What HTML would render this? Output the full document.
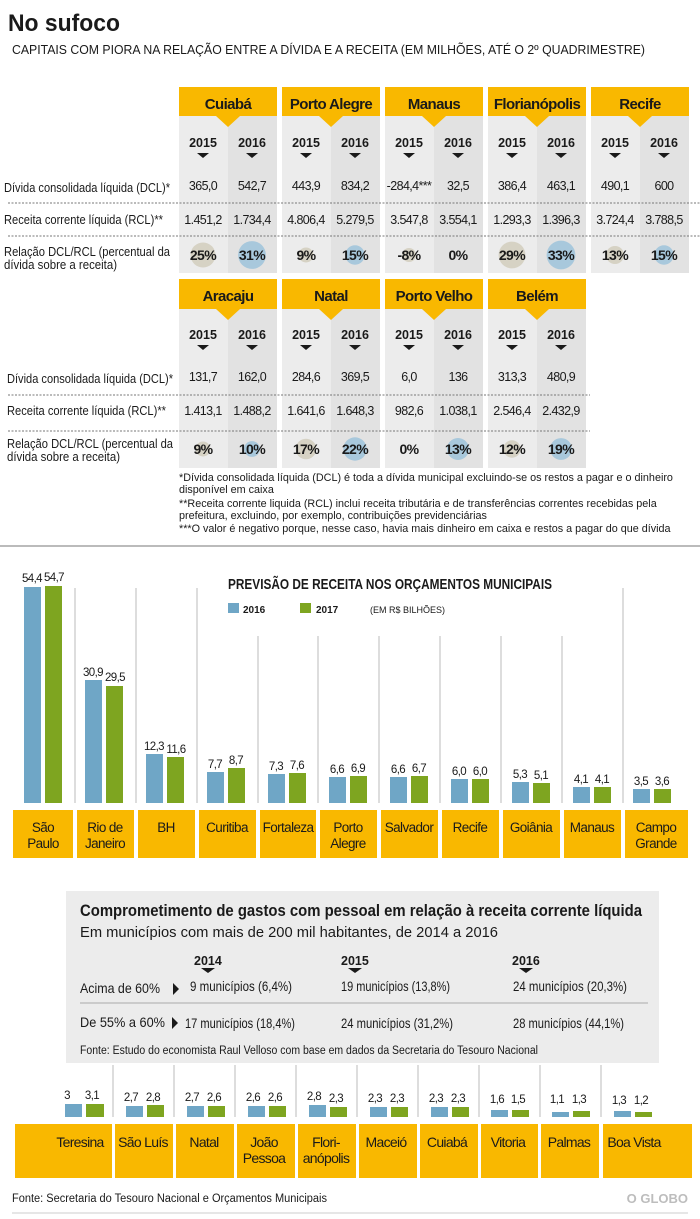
<!DOCTYPE html>
<html><head><meta charset="utf-8">
<style>
body{margin:0;background:#fff}
svg{display:block}
text{font-family:"Liberation Sans",sans-serif;fill:#1a1a1a}
.b{font-weight:bold}
.m{text-anchor:middle}
.r{text-anchor:end}
.n{letter-spacing:-0.6px}
</style></head><body>
<svg width="700" height="1219" viewBox="0 0 700 1219" xmlns="http://www.w3.org/2000/svg">
<text x="8" y="31" class="b" font-size="24" textLength="112" lengthAdjust="spacingAndGlyphs">No sufoco</text>
<text x="12" y="54" font-size="12.5" textLength="633" lengthAdjust="spacingAndGlyphs">CAPITAIS COM PIORA NA RELAÇÃO ENTRE A DÍVIDA E A RECEITA (EM MILHÕES, ATÉ O 2º QUADRIMESTRE)</text>

<!-- TABLE 1 -->
<g>
<rect x="179" y="116" width="49" height="157" fill="#ececec"/><rect x="228" y="116" width="49" height="157" fill="#e2e2e2"/>
<rect x="282" y="116" width="49" height="157" fill="#ececec"/><rect x="331" y="116" width="49" height="157" fill="#e2e2e2"/>
<rect x="385" y="116" width="49" height="157" fill="#ececec"/><rect x="434" y="116" width="49" height="157" fill="#e2e2e2"/>
<rect x="488" y="116" width="49" height="157" fill="#ececec"/><rect x="537" y="116" width="49" height="157" fill="#e2e2e2"/>
<rect x="591" y="116" width="49" height="157" fill="#ececec"/><rect x="640" y="116" width="49" height="157" fill="#e2e2e2"/>
<g fill="#f9b800">
<rect x="179" y="87" width="98" height="29"/><polygon points="216,116 228,127 240,116"/>
<rect x="282" y="87" width="98" height="29"/><polygon points="319,116 331,127 343,116"/>
<rect x="385" y="87" width="98" height="29"/><polygon points="422,116 434,127 446,116"/>
<rect x="488" y="87" width="98" height="29"/><polygon points="525,116 537,127 549,116"/>
<rect x="591" y="87" width="98" height="29"/><polygon points="628,116 640,127 652,116"/>
</g>
<g class="b m" font-size="15" style="letter-spacing:-0.6px">
<text x="228" y="109">Cuiabá</text><text x="331" y="109">Porto Alegre</text><text x="434" y="109">Manaus</text><text x="537" y="109">Florianópolis</text><text x="640" y="109">Recife</text>
</g>
<g class="b m" font-size="12.5">
<text x="203" y="147">2015</text><text x="252" y="147">2016</text><text x="306" y="147">2015</text><text x="355" y="147">2016</text><text x="409" y="147">2015</text><text x="458" y="147">2016</text><text x="512" y="147">2015</text><text x="561" y="147">2016</text><text x="615" y="147">2015</text><text x="664" y="147">2016</text>
</g>
<g fill="#1a1a1a">
<polygon points="197,153 209,153 203,158"/><polygon points="246,153 258,153 252,158"/><polygon points="300,153 312,153 306,158"/><polygon points="349,153 361,153 355,158"/><polygon points="403,153 415,153 409,158"/><polygon points="452,153 464,153 458,158"/><polygon points="506,153 518,153 512,158"/><polygon points="555,153 567,153 561,158"/><polygon points="609,153 621,153 615,158"/><polygon points="658,153 670,153 664,158"/>
</g>
<line x1="8" y1="203" x2="700" y2="203" stroke="#777" stroke-dasharray="2,1.5"/>
<line x1="8" y1="236" x2="700" y2="236" stroke="#777" stroke-dasharray="2,1.5"/>
<g font-size="13"><text x="4" y="192" textLength="166" lengthAdjust="spacingAndGlyphs">Dívida consolidada líquida (DCL)*</text><text x="4" y="224" textLength="159" lengthAdjust="spacingAndGlyphs">Receita corrente líquida (RCL)**</text><text x="4" y="256" textLength="166" lengthAdjust="spacingAndGlyphs">Relação DCL/RCL (percentual da</text><text x="4" y="269" textLength="113" lengthAdjust="spacingAndGlyphs">dívida sobre a receita)</text></g>
<g class="m n" font-size="12.5">
<text x="203" y="190">365,0</text><text x="252" y="190">542,7</text><text x="306" y="190">443,9</text><text x="355" y="190">834,2</text><text x="409" y="190">-284,4***</text><text x="458" y="190">32,5</text><text x="512" y="190">386,4</text><text x="561" y="190">463,1</text><text x="615" y="190">490,1</text><text x="664" y="190">600</text>
<text x="203" y="224">1.451,2</text><text x="252" y="224">1.734,4</text><text x="306" y="224">4.806,4</text><text x="355" y="224">5.279,5</text><text x="409" y="224">3.547,8</text><text x="458" y="224">3.554,1</text><text x="512" y="224">1.293,3</text><text x="561" y="224">1.396,3</text><text x="615" y="224">3.724,4</text><text x="664" y="224">3.788,5</text>
</g>
<circle cx="203" cy="255" r="12.5" fill="#d6d2c4"/><circle cx="252" cy="255" r="13.9" fill="#a8c8dc"/>
<circle cx="306" cy="255" r="7.5" fill="#d6d2c4"/><circle cx="355" cy="255" r="9.7" fill="#a8c8dc"/>
<circle cx="409" cy="255" r="7" fill="#d6d2c4"/>
<circle cx="512" cy="255" r="13.4" fill="#d6d2c4"/><circle cx="561" cy="255" r="14.4" fill="#a8c8dc"/>
<circle cx="615" cy="255" r="9" fill="#d6d2c4"/><circle cx="664" cy="255" r="9.7" fill="#a8c8dc"/>
<g class="b m n" font-size="14">
<text x="203" y="260">25%</text><text x="252" y="260">31%</text><text x="306" y="260">9%</text><text x="355" y="260">15%</text><text x="409" y="260">-8%</text><text x="458" y="260">0%</text><text x="512" y="260">29%</text><text x="561" y="260">33%</text><text x="615" y="260">13%</text><text x="664" y="260">15%</text>
</g>
</g>

<!-- TABLE 2 -->
<g>
<rect x="179" y="309" width="49" height="159" fill="#ececec"/><rect x="228" y="309" width="49" height="159" fill="#e2e2e2"/>
<rect x="282" y="309" width="49" height="159" fill="#ececec"/><rect x="331" y="309" width="49" height="159" fill="#e2e2e2"/>
<rect x="385" y="309" width="49" height="159" fill="#ececec"/><rect x="434" y="309" width="49" height="159" fill="#e2e2e2"/>
<rect x="488" y="309" width="49" height="159" fill="#ececec"/><rect x="537" y="309" width="49" height="159" fill="#e2e2e2"/>
<g fill="#f9b800">
<rect x="179" y="279" width="98" height="30"/><polygon points="216,309 228,320 240,309"/>
<rect x="282" y="279" width="98" height="30"/><polygon points="319,309 331,320 343,309"/>
<rect x="385" y="279" width="98" height="30"/><polygon points="422,309 434,320 446,309"/>
<rect x="488" y="279" width="98" height="30"/><polygon points="525,309 537,320 549,309"/>
</g>
<g class="b m" font-size="15" style="letter-spacing:-0.6px">
<text x="228" y="301">Aracaju</text><text x="331" y="301">Natal</text><text x="434" y="301">Porto Velho</text><text x="537" y="301">Belém</text>
</g>
<g class="b m" font-size="12.5">
<text x="203" y="339">2015</text><text x="252" y="339">2016</text><text x="306" y="339">2015</text><text x="355" y="339">2016</text><text x="409" y="339">2015</text><text x="458" y="339">2016</text><text x="512" y="339">2015</text><text x="561" y="339">2016</text>
</g>
<g fill="#1a1a1a">
<polygon points="197,345 209,345 203,350"/><polygon points="246,345 258,345 252,350"/><polygon points="300,345 312,345 306,350"/><polygon points="349,345 361,345 355,350"/><polygon points="403,345 415,345 409,350"/><polygon points="452,345 464,345 458,350"/><polygon points="506,345 518,345 512,350"/><polygon points="555,345 567,345 561,350"/>
</g>
<line x1="8" y1="395" x2="590" y2="395" stroke="#777" stroke-dasharray="2,1.5"/>
<line x1="8" y1="431" x2="590" y2="431" stroke="#777" stroke-dasharray="2,1.5"/>
<g font-size="13"><text x="7" y="383" textLength="166" lengthAdjust="spacingAndGlyphs">Dívida consolidada líquida (DCL)*</text><text x="7" y="415" textLength="159" lengthAdjust="spacingAndGlyphs">Receita corrente líquida (RCL)**</text><text x="7" y="448" textLength="166" lengthAdjust="spacingAndGlyphs">Relação DCL/RCL (percentual da</text><text x="7" y="461" textLength="113" lengthAdjust="spacingAndGlyphs">dívida sobre a receita)</text></g>
<g class="m n" font-size="12.5">
<text x="203" y="381">131,7</text><text x="252" y="381">162,0</text><text x="306" y="381">284,6</text><text x="355" y="381">369,5</text><text x="409" y="381">6,0</text><text x="458" y="381">136</text><text x="512" y="381">313,3</text><text x="561" y="381">480,9</text>
<text x="203" y="415">1.413,1</text><text x="252" y="415">1.488,2</text><text x="306" y="415">1.641,6</text><text x="355" y="415">1.648,3</text><text x="409" y="415">982,6</text><text x="458" y="415">1.038,1</text><text x="512" y="415">2.546,4</text><text x="561" y="415">2.432,9</text>
</g>
<circle cx="203" cy="449" r="7.5" fill="#d6d2c4"/><circle cx="252" cy="449" r="7.9" fill="#a8c8dc"/>
<circle cx="306" cy="449" r="10.3" fill="#d6d2c4"/><circle cx="355" cy="449" r="11.7" fill="#a8c8dc"/>
<circle cx="458" cy="449" r="11" fill="#a8c8dc"/>
<circle cx="512" cy="449" r="8.7" fill="#d6d2c4"/><circle cx="561" cy="449" r="10.9" fill="#a8c8dc"/>
<g class="b m n" font-size="14">
<text x="203" y="454">9%</text><text x="252" y="454">10%</text><text x="306" y="454">17%</text><text x="355" y="454">22%</text><text x="409" y="454">0%</text><text x="458" y="454">13%</text><text x="512" y="454">12%</text><text x="561" y="454">19%</text>
</g>
</g>

<g font-size="10.8" fill="#222">
<text x="179" y="481">*Dívida consolidada líquida (DCL) é toda a dívida municipal excluindo-se os restos a pagar e o dinheiro</text>
<text x="179" y="493">disponível em caixa</text>
<text x="179" y="507">**Receita corrente liquida (RCL) inclui receita tributária e de transferências correntes recebidas pela</text>
<text x="179" y="519">prefeitura, excluindo, por exemplo, contribuições previdenciárias</text>
<text x="179" y="532">***O valor é negativo porque, nesse caso, havia mais dinheiro em caixa e restos a pagar do que dívida</text>
</g>
<line x1="0" y1="546" x2="700" y2="546" stroke="#bbb" stroke-width="2"/>

<!-- BAR CHART 1 -->
<text x="228" y="589" class="b" font-size="15" textLength="324" lengthAdjust="spacingAndGlyphs">PREVISÃO DE RECEITA NOS ORÇAMENTOS MUNICIPAIS</text>
<rect x="228" y="603" width="11" height="10" fill="#6fa6c6"/><text x="243" y="613" class="b" font-size="10">2016</text>
<rect x="300" y="603" width="11" height="10" fill="#7ea520"/><text x="316" y="613" class="b" font-size="10">2017</text>
<text x="370" y="613" font-size="9">(EM R$ BILHÕES)</text>
<g stroke="#bbb" stroke-width="1">
<line x1="75" y1="588" x2="75" y2="803"/><line x1="136" y1="588" x2="136" y2="803"/><line x1="197" y1="588" x2="197" y2="803"/><line x1="258" y1="636" x2="258" y2="803"/><line x1="318" y1="636" x2="318" y2="803"/><line x1="379" y1="636" x2="379" y2="803"/><line x1="440" y1="636" x2="440" y2="803"/><line x1="501" y1="636" x2="501" y2="803"/><line x1="562" y1="636" x2="562" y2="803"/><line x1="623" y1="588" x2="623" y2="803"/>
</g>
<g fill="#6fa6c6">
<rect x="24" y="587" width="17" height="216"/><rect x="85" y="680" width="17" height="123"/><rect x="146" y="754" width="17" height="49"/><rect x="207" y="772" width="17" height="31"/><rect x="268" y="774" width="17" height="29"/><rect x="329" y="777" width="17" height="26"/><rect x="390" y="777" width="17" height="26"/><rect x="451" y="779" width="17" height="24"/><rect x="512" y="782" width="17" height="21"/><rect x="573" y="787" width="17" height="16"/><rect x="633" y="789" width="17" height="14"/>
</g>
<g fill="#7ea520">
<rect x="45" y="586" width="17" height="217"/><rect x="106" y="686" width="17" height="117"/><rect x="167" y="757" width="17" height="46"/><rect x="228" y="768" width="17" height="35"/><rect x="289" y="773" width="17" height="30"/><rect x="350" y="776" width="17" height="27"/><rect x="411" y="776" width="17" height="27"/><rect x="472" y="779" width="17" height="24"/><rect x="533" y="783" width="17" height="20"/><rect x="594" y="787" width="17" height="16"/><rect x="654" y="789" width="17" height="14"/>
</g>
<g class="m n" font-size="11.5">
<text x="32" y="582">54,4</text><text x="54" y="581">54,7</text>
<text x="93" y="676">30,9</text><text x="115" y="681">29,5</text>
<text x="154" y="750">12,3</text><text x="176" y="753">11,6</text>
<text x="215" y="768">7,7</text><text x="236" y="764">8,7</text>
<text x="276" y="770">7,3</text><text x="297" y="769">7,6</text>
<text x="337" y="773">6,6</text><text x="358" y="772">6,9</text>
<text x="398" y="773">6,6</text><text x="419" y="772">6,7</text>
<text x="459" y="775">6,0</text><text x="480" y="775">6,0</text>
<text x="520" y="778">5,3</text><text x="541" y="779">5,1</text>
<text x="581" y="783">4,1</text><text x="602" y="783">4,1</text>
<text x="641" y="785">3,5</text><text x="662" y="785">3,6</text>
</g>
<g fill="#f9b800">
<rect x="13" y="810" width="60" height="48"/><rect x="77" y="810" width="57" height="48"/><rect x="138" y="810" width="57" height="48"/><rect x="199" y="810" width="57" height="48"/><rect x="260" y="810" width="56" height="48"/><rect x="320" y="810" width="57" height="48"/><rect x="381" y="810" width="57" height="48"/><rect x="442" y="810" width="57" height="48"/><rect x="503" y="810" width="57" height="48"/><rect x="564" y="810" width="57" height="48"/><rect x="625" y="810" width="63" height="48"/>
</g>
<g class="m" font-size="13.5" style="letter-spacing:-0.6px">
<text x="43" y="832">São</text><text x="43" y="848">Paulo</text>
<text x="105" y="832">Rio de</text><text x="105" y="848">Janeiro</text>
<text x="166" y="832">BH</text>
<text x="227" y="832">Curitiba</text>
<text x="288" y="832">Fortaleza</text>
<text x="348" y="832">Porto</text><text x="348" y="848">Alegre</text>
<text x="409" y="832">Salvador</text>
<text x="470" y="832">Recife</text>
<text x="531" y="832">Goiânia</text>
<text x="592" y="832">Manaus</text>
<text x="656" y="832">Campo</text><text x="656" y="848">Grande</text>
</g>

<!-- BOX -->
<rect x="66" y="891" width="593" height="172" fill="#ececec"/>
<text x="80" y="916" class="b" font-size="17" textLength="562" lengthAdjust="spacingAndGlyphs">Comprometimento de gastos com pessoal em relação à receita corrente líquida</text>
<text x="80" y="937" font-size="14.5" textLength="418" lengthAdjust="spacingAndGlyphs">Em municípios com mais de 200 mil habitantes, de 2014 a 2016</text>
<g class="b" font-size="12.5"><text x="194" y="965">2014</text><text x="341" y="965">2015</text><text x="512" y="965">2016</text></g>
<g fill="#1a1a1a"><polygon points="201,968 215,968 208,973"/><polygon points="348,968 362,968 355,973"/><polygon points="519,968 533,968 526,973"/>
<polygon points="173,983 179,989 173,995"/><polygon points="172,1017 178,1023 172,1029"/></g>
<g font-size="14">
<text x="80" y="993" textLength="80" lengthAdjust="spacingAndGlyphs">Acima de 60%</text><text x="190" y="991" textLength="102" lengthAdjust="spacingAndGlyphs">9 municípios (6,4%)</text><text x="341" y="991" textLength="109" lengthAdjust="spacingAndGlyphs">19 municípios (13,8%)</text><text x="513" y="991" textLength="114" lengthAdjust="spacingAndGlyphs">24 municípios (20,3%)</text>
<text x="80" y="1027" textLength="85" lengthAdjust="spacingAndGlyphs">De 55% a 60%</text><text x="185" y="1028" textLength="110" lengthAdjust="spacingAndGlyphs">17 municípios (18,4%)</text><text x="341" y="1028" textLength="112" lengthAdjust="spacingAndGlyphs">24 municípios (31,2%)</text><text x="513" y="1028" textLength="111" lengthAdjust="spacingAndGlyphs">28 municípios (44,1%)</text>
</g>
<line x1="80" y1="1003" x2="648" y2="1003" stroke="#aaa" stroke-width="1"/>
<text x="80" y="1054" font-size="11.5" textLength="458" lengthAdjust="spacingAndGlyphs">Fonte: Estudo do economista Raul Velloso com base em dados da Secretaria do Tesouro Nacional</text>

<!-- BAR CHART 2 -->
<g stroke="#bbb"><line x1="113" y1="1065" x2="113" y2="1117"/><line x1="174" y1="1065" x2="174" y2="1117"/><line x1="235" y1="1065" x2="235" y2="1117"/><line x1="296" y1="1065" x2="296" y2="1117"/><line x1="357" y1="1065" x2="357" y2="1117"/><line x1="418" y1="1065" x2="418" y2="1117"/><line x1="479" y1="1065" x2="479" y2="1117"/><line x1="540" y1="1065" x2="540" y2="1117"/><line x1="601" y1="1065" x2="601" y2="1117"/></g>
<g fill="#6fa6c6">
<rect x="65" y="1104" width="17" height="13"/><rect x="126" y="1106" width="17" height="11"/><rect x="187" y="1106" width="17" height="11"/><rect x="248" y="1106" width="17" height="11"/><rect x="309" y="1105" width="17" height="12"/><rect x="370" y="1107" width="17" height="10"/><rect x="431" y="1107" width="17" height="10"/><rect x="491" y="1110" width="17" height="7"/><rect x="552" y="1112" width="17" height="5"/><rect x="614" y="1111" width="17" height="6"/>
</g>
<g fill="#7ea520">
<rect x="86" y="1104" width="18" height="13"/><rect x="147" y="1105" width="17" height="12"/><rect x="208" y="1106" width="17" height="11"/><rect x="269" y="1106" width="17" height="11"/><rect x="330" y="1107" width="17" height="10"/><rect x="391" y="1107" width="17" height="10"/><rect x="452" y="1107" width="17" height="10"/><rect x="512" y="1110" width="17" height="7"/><rect x="573" y="1111" width="17" height="6"/><rect x="635" y="1112" width="17" height="5"/>
</g>
<g class="m n" font-size="11.5">
<text x="67" y="1099">3</text><text x="92" y="1099">3,1</text>
<text x="131" y="1101">2,7</text><text x="153" y="1101">2,8</text>
<text x="192" y="1101">2,7</text><text x="214" y="1101">2,6</text>
<text x="253" y="1101">2,6</text><text x="275" y="1101">2,6</text>
<text x="314" y="1100">2,8</text><text x="336" y="1102">2,3</text>
<text x="375" y="1102">2,3</text><text x="397" y="1102">2,3</text>
<text x="436" y="1102">2,3</text><text x="458" y="1102">2,3</text>
<text x="497" y="1103">1,6</text><text x="518" y="1103">1,5</text>
<text x="557" y="1103">1,1</text><text x="579" y="1103">1,3</text>
<text x="619" y="1104">1,3</text><text x="641" y="1104">1,2</text>
</g>
<g fill="#f9b800">
<rect x="15" y="1124" width="97" height="54"/><rect x="115" y="1124" width="58" height="54"/><rect x="176" y="1124" width="58" height="54"/><rect x="237" y="1124" width="58" height="54"/><rect x="298" y="1124" width="58" height="54"/><rect x="359" y="1124" width="58" height="54"/><rect x="420" y="1124" width="58" height="54"/><rect x="481" y="1124" width="57" height="54"/><rect x="541" y="1124" width="58" height="54"/><rect x="603" y="1124" width="89" height="54"/>
</g>
<g class="m" font-size="14" style="letter-spacing:-0.7px">
<text x="80" y="1147">Teresina</text><text x="143" y="1147">São Luís</text><text x="204" y="1147">Natal</text>
<text x="264" y="1147">João</text><text x="264" y="1163">Pessoa</text>
<text x="326" y="1147">Flori-</text><text x="326" y="1163">anópolis</text>
<text x="386" y="1147">Maceió</text><text x="447" y="1147">Cuiabá</text><text x="508" y="1147">Vitoria</text><text x="569" y="1147">Palmas</text><text x="634" y="1147">Boa Vista</text>
</g>
<text x="12" y="1202" font-size="11.5" textLength="315" lengthAdjust="spacingAndGlyphs">Fonte: Secretaria do Tesouro Nacional e Orçamentos Municipais</text>
<text x="688" y="1203" class="b r" font-size="13" style="fill:#bdbdbd">O GLOBO</text>
<line x1="12" y1="1213" x2="688" y2="1213" stroke="#ddd" stroke-width="1.5"/>
</svg>
</body></html>
